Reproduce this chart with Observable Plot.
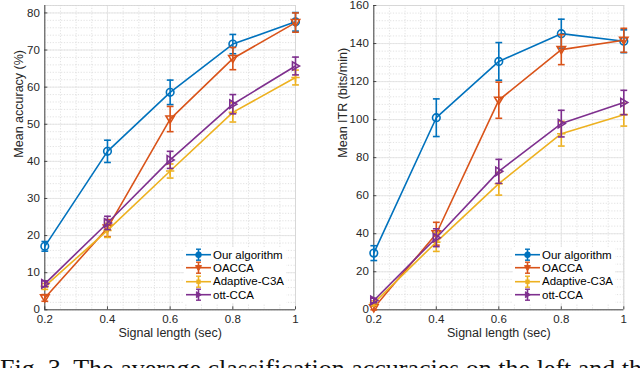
<!DOCTYPE html>
<html><head><meta charset="utf-8">
<script src="https://cdn.jsdelivr.net/npm/d3@7"></script>
<script src="https://cdn.jsdelivr.net/npm/@observablehq/plot@0.6"></script>
<style>
html,body{margin:0;padding:0;background:#fff;overflow:hidden;width:640px;height:368px}
#wrap{position:relative;width:640px;height:368px;overflow:hidden}
.panel{position:absolute;top:0}
.legend{position:absolute;background:#fff;font:11.5px "Liberation Sans",Arial,sans-serif;color:#000;padding:1px 2px}
.row{display:flex;align-items:center;height:13.4px;white-space:nowrap}
.row svg{margin-right:2px}
.caption{position:absolute;left:0;top:356px;font:26px/26px "Liberation Serif","Times New Roman",serif;white-space:nowrap;color:#111}
</style></head><body><div id="wrap"></div>
<script>
// ---- data ----
const signalLength = [0.2, 0.4, 0.6, 0.8, 1.0];
const seriesNames = ["Our algorithm", "OACCA", "Adaptive-C3A", "ott-CCA"];
const seriesColors = ["#0072BD", "#D95319", "#EDB120", "#7E2F8E"];

// Mean accuracy (%)
const accOur = [17.1, 42.7, 58.6, 71.6, 77.6];
const accOurErr = [1.3, 3.0, 3.3, 2.6, 2.5];
const accOACCA = [3.2, 22.0, 51.4, 67.7, 77.4];
const accOACCAErr = [0.9, 2.3, 3.4, 3.0, 2.6];
const accAdaptive = [6.3, 21.4, 37.4, 53.2, 62.6];
const accAdaptiveErr = [0.8, 1.9, 1.9, 2.6, 2.0];
const accOtt = [7.0, 23.4, 40.4, 55.4, 65.7];
const accOttErr = [0.8, 1.8, 2.3, 2.6, 2.4];

// Mean ITR (bits/min)
const itrOur = [29.8, 101.0, 130.6, 145.2, 141.2];
const itrOurErr = [3.9, 9.9, 9.9, 7.6, 6.0];
const itrOACCA = [1.0, 40.0, 110.2, 136.8, 141.7];
const itrOACCAErr = [1.0, 6.0, 9.5, 7.9, 6.3];
const itrAdaptive = [3.5, 35.6, 66.3, 92.6, 102.6];
const itrAdaptiveErr = [1.2, 4.9, 6.0, 6.5, 6.0];
const itrOtt = [4.9, 37.9, 72.8, 97.9, 109.0];
const itrOttErr = [1.2, 4.7, 6.3, 7.0, 6.4];

// ticks
const xTicks = [0.2, 0.4, 0.6, 0.8, 1.0];
const accTicks = [0, 10, 20, 30, 40, 50, 60, 70, 80];
const itrTicks = [0, 20, 40, 60, 80, 100, 120, 140, 160];
const xMinor = d3.range(0.2, 1.0001, 0.05);
const accMinor = d3.range(0, 82.01, 2);
const itrMinor = d3.range(0, 160.01, 4);

const xLabel = "Signal length (sec)";
const caption = "Fig. 3.  The average classification accuracies on the left and the";

// ---- symbols ----
const sym = f => ({draw(ctx, size) { const r = Math.sqrt(size / Math.PI); f(ctx, r); }});
const capSym = sym((c, r) => { c.moveTo(-r, 0); c.lineTo(r, 0); });
const triDown = sym((c, r) => { c.moveTo(-r, -r * 0.72); c.lineTo(r, -r * 0.72); c.lineTo(0, r * 0.95); c.closePath(); });
const triRight = sym((c, r) => { c.moveTo(-r * 0.72, -r); c.lineTo(-r * 0.72, r); c.lineTo(r * 0.95, 0); c.closePath(); });
const plusSym = sym((c, r) => { c.moveTo(-r, 0); c.lineTo(r, 0); c.moveTo(0, -r); c.lineTo(0, r); });
const seriesSymbols = ["circle", triDown, plusSym, triRight];

const fmt = d => String(+d.toFixed(1));

function panel({values, errs, yDomain, yTicks, yMinor, yLabel, ml, mr, labelDx, left}) {
  const W = 320, H = 346, mt = 5, mb = 36.7;
  const fh = H - mt - mb, fw = W - ml - mr;
  const marks = [
    Plot.ruleY(yMinor, {stroke: "#cfcfcf", strokeWidth: 0.6, strokeDasharray: "1.2,1.6"}),
    Plot.ruleX(xMinor, {stroke: "#cfcfcf", strokeWidth: 0.6, strokeDasharray: "1.2,1.6"}),
    Plot.ruleY(yTicks, {stroke: "#e2e2e2", strokeWidth: 0.8}),
    Plot.ruleX(xTicks, {stroke: "#e2e2e2", strokeWidth: 0.8}),
    Plot.frame({stroke: "#d4d4d4", strokeWidth: 0.8}),
    Plot.ruleX([xTicks[0]], {stroke: "#262626", strokeWidth: 0.8}),
    Plot.ruleY([yDomain[0]], {stroke: "#262626", strokeWidth: 0.8}),
    Plot.ruleX(xTicks, {stroke: "#262626", strokeWidth: 0.8, insetTop: fh - 3}),
    Plot.ruleY(yTicks, {stroke: "#262626", strokeWidth: 0.8, insetRight: fw - 3}),
    Plot.axisX(xTicks, {tickSize: 0, tickPadding: 5, tickFormat: fmt, label: null}),
    Plot.axisY(yTicks, {tickSize: 0, tickPadding: 5, label: null}),
    Plot.text([yLabel], {frameAnchor: "left", rotate: -90, dx: labelDx, fontSize: 12.5}),
    Plot.text([xLabel], {frameAnchor: "bottom", dy: 27, fontSize: 12.5})
  ];
  seriesNames.forEach((name, k) => {
    const data = signalLength.map((x, i) => ({x, y: values[k][i], lo: values[k][i] - errs[k][i], hi: values[k][i] + errs[k][i]}));
    const color = seriesColors[k];
    marks.push(
      Plot.line(data, {x: "x", y: "y", stroke: color, strokeWidth: 1.6}),
      Plot.ruleX(data, {x: "x", y1: "lo", y2: "hi", stroke: color, strokeWidth: 1.6}),
      Plot.dot(data, {x: "x", y: "lo", symbol: capSym, r: 3.4, stroke: color, strokeWidth: 1.6, fill: "none"}),
      Plot.dot(data, {x: "x", y: "hi", symbol: capSym, r: 3.4, stroke: color, strokeWidth: 1.6, fill: "none"}),
      Plot.dot(data, {x: "x", y: "y", symbol: seriesSymbols[k], r: k === 0 ? 3.8 : 4.2, stroke: color, strokeWidth: 1.6, fill: "none"})
    );
  });
  const svg = Plot.plot({
    width: W, height: H,
    marginLeft: ml, marginRight: mr, marginTop: mt, marginBottom: mb,
    x: {domain: [0.2, 1]},
    y: {domain: yDomain},
    style: {fontFamily: "'Liberation Sans', Arial, sans-serif", fontSize: "11.5px", color: "#262626", background: "#fff"},
    marks
  });
  const div = document.createElement("div");
  div.className = "panel";
  div.style.left = left + "px";
  div.appendChild(svg);
  return div;
}

function legend(left, top) {
  const lg = document.createElement("div");
  lg.className = "legend";
  lg.style.left = left + "px";
  lg.style.top = top + "px";
  seriesNames.forEach((name, k) => {
    const c = seriesColors[k];
    const row = document.createElement("div");
    row.className = "row";
    let marker;
    if (k === 0) marker = `<circle cx="12.5" cy="6.7" r="2.6" fill="${c}" stroke="${c}" stroke-width="1.2"/>`;
    else if (k === 1) marker = `<path d="M9.5,4.6L15.5,4.6L12.5,9.8Z" fill="${c}" stroke="${c}" stroke-width="1"/>`;
    else if (k === 2) marker = `<rect x="10.3" y="4.5" width="4.4" height="4.4" fill="${c}"/>`;
    else marker = `<path d="M10.4,3.7L10.4,9.7L15.4,6.7Z" fill="${c}" stroke="${c}" stroke-width="1"/>`;
    row.innerHTML = `<svg width="25" height="13.4"><line x1="0" x2="25" y1="6.7" y2="6.7" stroke="${c}" stroke-width="1.6"/>
      <line x1="12.5" x2="12.5" y1="1.2" y2="12.2" stroke="${c}" stroke-width="1.6"/>
      <line x1="10" x2="15" y1="1.2" y2="1.2" stroke="${c}" stroke-width="1.4"/>
      <line x1="10" x2="15" y1="12.2" y2="12.2" stroke="${c}" stroke-width="1.4"/>${marker}</svg><span>${name}</span>`;
    lg.appendChild(row);
  });
  return lg;
}

const wrap = document.getElementById("wrap");
wrap.appendChild(panel({
  values: [accOur, accOACCA, accAdaptive, accOtt],
  errs: [accOurErr, accOACCAErr, accAdaptiveErr, accOttErr],
  yDomain: [0, 82], yTicks: accTicks, yMinor: accMinor,
  yLabel: "Mean accuracy (%)", ml: 44.3, mr: 25, labelDx: -26.3, left: 0
}));
wrap.appendChild(panel({
  values: [itrOur, itrOACCA, itrAdaptive, itrOtt],
  errs: [itrOurErr, itrOACCAErr, itrAdaptiveErr, itrOttErr],
  yDomain: [0, 160], yTicks: itrTicks, yMinor: itrMinor,
  yLabel: "Mean ITR (bits/min)", ml: 53.3, mr: 16.7, labelDx: -31.3, left: 320
}));
wrap.appendChild(legend(184, 247));
wrap.appendChild(legend(513, 247));
const cap = document.createElement("div");
cap.className = "caption";
cap.textContent = caption;
wrap.appendChild(cap);
</script></body></html>
